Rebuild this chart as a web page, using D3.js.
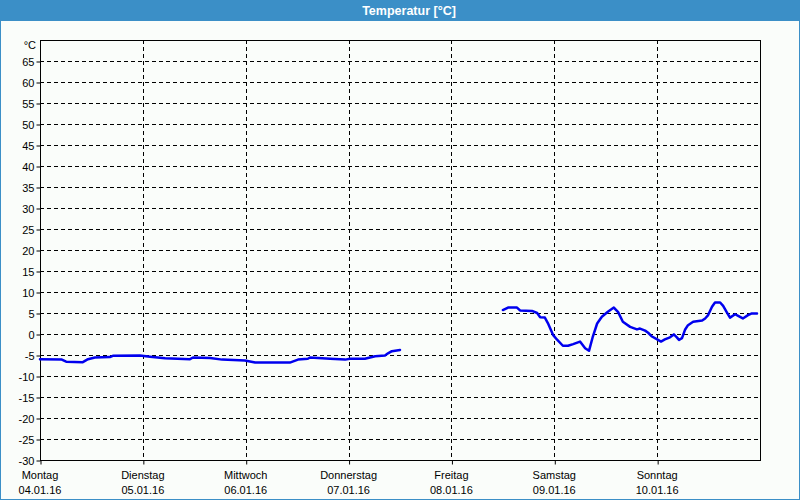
<!DOCTYPE html>
<html><head><meta charset="utf-8">
<script src="https://cdn.jsdelivr.net/npm/d3@7"></script>
<style>
html,body{margin:0;padding:0;background:#fff;}
svg{display:block;}
text{font-family:"Liberation Sans",Arial,sans-serif;}
</style></head>
<body>
<svg id="chart" width="800" height="500"></svg>
<script>
const title = "Temperatur [°C]";
const unitLabel = "°C";
const dayNames = ["Montag","Dienstag","Mittwoch","Donnerstag","Freitag","Samstag","Sonntag"];
const dayDates = ["04.01.16","05.01.16","06.01.16","07.01.16","08.01.16","09.01.16","10.01.16"];
const yTicks = [-30,-25,-20,-15,-10,-5,0,5,10,15,20,25,30,35,40,45,50,55,60,65];
// hours since Monday 04.01.16 00:00 ; null = no data (gap)
const hours = [0,5.1,6.1,10,11.2,12.8,16.3,17,23.3,25.7,29.2,35,35.7,39.7,42.5,47.8,50.2,58.3,60.2,62.5,63,67.7,71.2,72.3,75.8,78.2,80.5,81.2,82.1,84,
  96,
  108,109.2,111.3,112,114.8,116,116.7,117.8,118.5,119.7,120.6,122,123.2,124.4,126,127.2,128.1,129,130,131.1,132.5,133.9,134.9,136,137.7,139.3,140,141.2,141.9,142.8,144,144.9,145.8,147,147.9,148.6,149.1,149.8,150.5,151.2,152.4,154.5,155.2,155.9,156.8,157.5,158.7,159.4,160.3,161,162.2,162.9,164,165.2,166.1,167.3];
const temps = [-6.0,-6.1,-6.6,-6.7,-6.0,-5.6,-5.5,-5.2,-5.1,-5.4,-5.8,-6.0,-5.6,-5.7,-6.1,-6.3,-6.8,-6.8,-6.1,-5.9,-5.6,-5.9,-6.1,-5.9,-5.9,-5.3,-5.1,-4.6,-4.1,-3.8,
  null,
  5.7,6.3,6.3,5.6,5.5,5.0,4.0,3.9,2.6,-0.2,-1.3,-2.8,-2.8,-2.4,-1.8,-3.4,-4.0,-0.6,2.5,4.1,5.3,6.3,5.2,2.9,1.7,1.1,1.3,0.8,0.3,-0.6,-1.3,-1.8,-1.3,-0.8,-0.1,-0.8,-1.4,-1.0,1.0,2.1,2.9,3.2,3.7,4.5,6.5,7.5,7.5,6.7,5.1,3.9,4.7,4.3,3.7,4.5,4.9,4.9];

const svg = d3.select("#chart");
const W = 800, H = 500;
const m = {left:40, right:760, top:40, bottom:460};
const blue = "#3b8fc7";

svg.append("rect").attr("x",0).attr("y",0).attr("width",W).attr("height",H).attr("fill","#fafdfa");
svg.append("rect").attr("x",0.5).attr("y",0.5).attr("width",W-1).attr("height",H-1)
  .attr("fill","none").attr("stroke",blue).attr("stroke-width",1);
svg.append("rect").attr("x",0).attr("y",0).attr("width",W).attr("height",21).attr("fill",blue);
svg.append("text").attr("x",409).attr("y",15).attr("text-anchor","middle")
  .attr("fill","#fff").attr("font-weight","bold").attr("font-size","12.5px").text(title);

const x = d3.scaleLinear().domain([0, 7*24]).range([m.left, m.right]);
const y = d3.scaleLinear().domain([-30, 70]).range([m.bottom, m.top]);

const g = svg.append("g");
g.selectAll("line.h").data(yTicks.filter(t => t > -30)).enter().append("line")
  .attr("x1",m.left).attr("x2",m.right)
  .attr("y1",d=>Math.round(y(d))+0.5).attr("y2",d=>Math.round(y(d))+0.5)
  .attr("stroke","#000").attr("stroke-dasharray","4,3").attr("stroke-width",1);
g.selectAll("line.v").data(d3.range(1,7)).enter().append("line")
  .attr("x1",d=>Math.round(x(d*24))+0.5).attr("x2",d=>Math.round(x(d*24))+0.5)
  .attr("y1",m.top).attr("y2",m.bottom)
  .attr("stroke","#000").attr("stroke-dasharray","4,3").attr("stroke-width",1);

const yAxis = d3.axisLeft(y).tickValues(yTicks).tickSize(4).tickPadding(2).tickFormat(d=>d);
const ya = svg.append("g").attr("transform",`translate(${m.left+0.5},0.5)`).call(yAxis);
ya.select(".domain").remove();
ya.selectAll("text").attr("font-size","11px").attr("fill","#000").attr("font-family","Liberation Sans, Arial, sans-serif");

const xAxis = d3.axisBottom(x).tickValues(d3.range(0,7).map(d=>d*24)).tickSize(4).tickFormat("");
const xa = svg.append("g").attr("transform",`translate(0.5,${m.bottom+0.5})`).call(xAxis);
xa.select(".domain").remove();

const lab = svg.append("g");
lab.selectAll("text.d").data(dayNames).enter().append("text")
  .attr("x",(d,i)=>x(i*24)).attr("y",479).attr("text-anchor","middle")
  .attr("font-size","11px").attr("fill","#000").text(d=>d);
lab.selectAll("text.t").data(dayDates).enter().append("text")
  .attr("x",(d,i)=>x(i*24)).attr("y",494).attr("text-anchor","middle")
  .attr("font-size","11px").attr("fill","#000").text(d=>d);
svg.append("text").attr("x",36).attr("y",49).attr("text-anchor","end")
  .attr("font-size","11px").attr("fill","#000").text(unitLabel);

svg.append("rect").attr("x",m.left+0.5).attr("y",m.top+0.5)
  .attr("width",m.right-m.left).attr("height",m.bottom-m.top)
  .attr("fill","none").attr("stroke","#000").attr("stroke-width",1);

const data = hours.map((h,i)=>({h, v: temps[i]}));
const line = d3.line().defined(d=>d.v!==null).x(d=>x(d.h)).y(d=>y(d.v));
svg.append("path").datum(data).attr("d",line)
  .attr("fill","none").attr("stroke","#0000ee").attr("stroke-width",2.5)
  .attr("stroke-linejoin","round").attr("stroke-linecap","round");
</script>
</body></html>
